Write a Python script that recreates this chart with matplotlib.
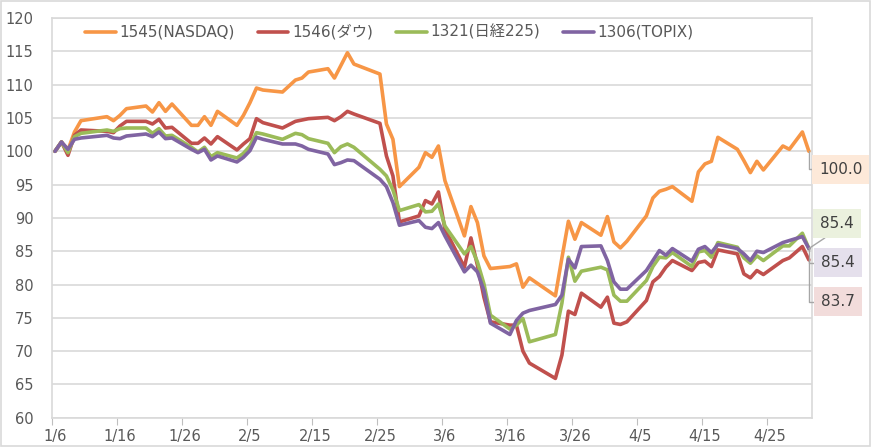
import numpy as np
import matplotlib.pyplot as plt
import matplotlib.dates as mdates
from matplotlib.patches import Rectangle

plt.rcParams['font.family'] = ['DejaVu Sans', 'Noto Sans CJK JP']

dates = [
    "2020-01-06", "2020-01-07", "2020-01-08", "2020-01-09", "2020-01-10", "2020-01-14", "2020-01-15",
    "2020-01-16", "2020-01-17", "2020-01-20", "2020-01-21", "2020-01-22", "2020-01-23", "2020-01-24",
    "2020-01-27", "2020-01-28", "2020-01-29", "2020-01-30", "2020-01-31",
    "2020-02-03", "2020-02-04", "2020-02-05", "2020-02-06", "2020-02-07", "2020-02-10", "2020-02-12",
    "2020-02-13", "2020-02-14", "2020-02-17", "2020-02-18", "2020-02-19", "2020-02-20", "2020-02-21",
    "2020-02-25", "2020-02-26", "2020-02-27", "2020-02-28",
    "2020-03-02", "2020-03-03", "2020-03-04", "2020-03-05", "2020-03-06", "2020-03-09", "2020-03-10",
    "2020-03-11", "2020-03-12", "2020-03-13", "2020-03-16", "2020-03-17", "2020-03-18", "2020-03-19",
    "2020-03-23", "2020-03-24", "2020-03-25", "2020-03-26", "2020-03-27", "2020-03-30", "2020-03-31",
    "2020-04-01", "2020-04-02", "2020-04-03", "2020-04-06", "2020-04-07", "2020-04-08", "2020-04-09",
    "2020-04-10", "2020-04-13", "2020-04-14", "2020-04-15", "2020-04-16", "2020-04-17", "2020-04-20",
    "2020-04-21", "2020-04-22", "2020-04-23", "2020-04-24", "2020-04-27", "2020-04-28", "2020-04-30",
    "2020-05-01",
]

nasdaq = [
    100.0, 101.4, 100.2, 102.9, 104.6, 105.2, 104.6, 105.4, 106.4, 106.8, 105.9, 107.3, 106.0, 107.1,
    103.9, 103.9, 105.2, 103.9, 106.0,
    103.9, 105.4, 107.3, 109.5, 109.2, 108.9, 110.7, 111.0, 111.9, 112.4, 111.0, 112.9, 114.8, 113.1,
    111.6, 104.1, 101.8, 94.7,
    97.6, 99.8, 99.1, 100.8, 95.6, 87.3, 91.7, 89.3, 84.3, 82.4, 82.7, 83.1, 79.6, 81.0,
    78.3, 84.0, 89.5, 86.8, 89.3, 87.4, 90.2,
    86.4, 85.5, 86.5, 90.3, 93.0, 94.0, 94.3, 94.7, 92.5, 96.9, 98.1, 98.5, 102.1, 100.3,
    98.6, 96.8, 98.5, 97.2, 100.8, 100.3, 102.9,
    100.0,
]

dow = [
    100.0, 101.4, 99.4, 102.4, 103.2, 103.0, 102.8, 103.8, 104.5, 104.5, 104.1, 104.8, 103.5, 103.6,
    101.2, 101.2, 102.0, 101.1, 102.2,
    100.2, 101.1, 101.9, 104.9, 104.3, 103.5, 104.5, 104.7, 104.9, 105.1, 104.6, 105.2, 106.0, 105.6,
    104.2, 99.3, 96.3, 89.4,
    90.3, 92.6, 92.1, 93.9, 88.3, 82.6, 87.0, 82.9, 78.1, 74.4, 73.9, 73.9, 70.0, 68.2,
    65.9, 69.4, 76.0, 75.5, 78.7, 76.6, 78.1,
    74.2, 74.0, 74.4, 77.6, 80.4, 81.2, 82.6, 83.6, 82.1, 83.3, 83.5, 82.7, 85.2, 84.6,
    81.6, 81.0, 82.1, 81.5, 83.6, 84.0, 85.7,
    83.7,
]

nikkei = [
    100.0, 101.4, 99.8, 102.2, 102.7, 103.2, 103.0, 103.4, 103.5, 103.5, 102.7, 103.4, 102.3, 102.4,
    100.6, 99.9, 100.6, 99.2, 99.8,
    99.0, 99.7, 100.8, 102.8, 102.6, 101.8, 102.7, 102.5, 101.9, 101.2, 99.8, 100.7, 101.1, 100.6,
    97.3, 96.3, 94.2, 91.1,
    92.0, 90.9, 91.0, 92.1, 88.8, 84.6, 85.7, 83.4, 80.1, 75.4, 73.3, 73.9, 74.9, 71.4,
    72.5, 77.2, 84.1, 80.5, 82.0, 82.6, 82.2,
    78.4, 77.5, 77.5, 80.6, 82.7, 84.1, 84.0, 84.8, 82.7, 84.9, 85.1, 84.1, 86.3, 85.6,
    84.0, 83.2, 84.3, 83.6, 85.8, 85.8, 87.7,
    85.4,
]

topix = [
    100.0, 101.4, 100.3, 101.8, 102.0, 102.4, 102.0, 101.9, 102.3, 102.6, 102.2, 102.9, 101.9, 102.0,
    100.3, 99.8, 100.3, 98.7, 99.3,
    98.4, 99.1, 100.1, 102.1, 101.8, 101.1, 101.1, 100.8, 100.3, 99.6, 98.0, 98.3, 98.7, 98.6,
    95.8, 94.7, 92.3, 88.9,
    89.6, 88.6, 88.4, 89.3, 87.3, 81.9, 82.9, 81.9, 79.1, 74.2, 72.5, 74.6, 75.7, 76.1,
    77.0, 78.4, 83.8, 82.5, 85.7, 85.8, 83.6,
    80.4, 79.3, 79.3, 82.1, 83.6, 85.1, 84.4, 85.4, 83.5, 85.3, 85.7, 84.8, 86.0, 85.4,
    84.6, 83.6, 85.0, 84.8, 86.3, 86.6, 87.2,
    85.4,
]

labels = ["1545(NASDAQ)", "1546(ダウ)", "1321(日経225)", "1306(TOPIX)"]
colors = ["#F79646", "#C0504D", "#9BBB59", "#8064A2"]
box_colors = ["#FDE9D9", "#F2DCDB", "#EBF1DE", "#E5E0EC"]
series = [nasdaq, dow, nikkei, topix]

grey = "#595959"

fig = plt.figure(figsize=(8.71, 4.47), dpi=100)
ax = fig.add_axes([0.0594, 0.0655, 0.873, 0.894])

# excel date axis: each point sits in the middle of its day slot
xd = mdates.date2num(np.array(dates, dtype="datetime64[D]")) + 0.5
start = mdates.date2num(np.datetime64("2020-01-06"))

lines = []
for vals, c, lab in zip(series, colors, labels):
    ln, = ax.plot(xd, vals, color=c, lw=2.6, label=lab,
                  solid_joinstyle="round", solid_capstyle="round")
    lines.append(ln)

ax.set_xlim(start, start + 117)
ax.set_ylim(60, 120)
ax.set_yticks(np.arange(60, 121, 5))
ax.yaxis.grid(True, color="#d9d9d9", lw=1.2)
ax.set_axisbelow(True)

major = start + np.arange(0, 111, 10)
ax.set_xticks(major)
ax.set_xticklabels([])
ax.set_xticks(major + 0.5, minor=True)
ax.set_xticklabels([f"{d.month}/{d.day}" for d in mdates.num2date(major)], minor=True)
ax.tick_params(axis="x", which="major", length=5, color="#bfbfbf", direction="out")
ax.tick_params(axis="x", which="minor", length=0, pad=8, labelsize=10.5, labelcolor=grey)
ax.tick_params(axis="y", length=0, pad=13, labelsize=10.5, labelcolor=grey)

for s in ax.spines.values():
    s.set_color("#d9d9d9")
    s.set_linewidth(1.2)

fig.legend(handles=lines, loc="center", bbox_to_anchor=(0.447, 0.928), ncol=4,
           frameon=False, fontsize=11, handlelength=2.0, handletextpad=0.25,
           columnspacing=1.5, labelcolor=grey)

# end-value labels with leader lines
offsets = [(32, -18), (29, -42), (28, 25), (29, -14)]
conns = ["angle,angleA=0,angleB=90,rad=0", "angle,angleA=0,angleB=90,rad=0",
         "arc3,rad=0", "angle,angleA=0,angleB=90,rad=0"]
rels = [(0, 0.5), (0, 0.5), (0.45, 0), (0, 0.5)]
for vals, bc, off, cs, rp in zip(series, box_colors, offsets, conns, rels):
    ax.annotate(f"{vals[-1]:.1f}", xy=(xd[-1], vals[-1]), xytext=off,
                textcoords="offset pixels", ha="center", va="center",
                fontsize=11, color="#404040", annotation_clip=False,
                bbox=dict(boxstyle="square,pad=0.45", fc=bc, ec="none"),
                arrowprops=dict(arrowstyle="-", color="#a6a6a6", lw=1.0,
                                shrinkA=0, shrinkB=0, relpos=rp, connectionstyle=cs))

fig.patches.append(Rectangle((0.001, 0.002), 0.998, 0.996, transform=fig.transFigure,
                             fill=False, ec="#d9d9d9", lw=1.2))

fig.savefig("out.png", dpi=100)
